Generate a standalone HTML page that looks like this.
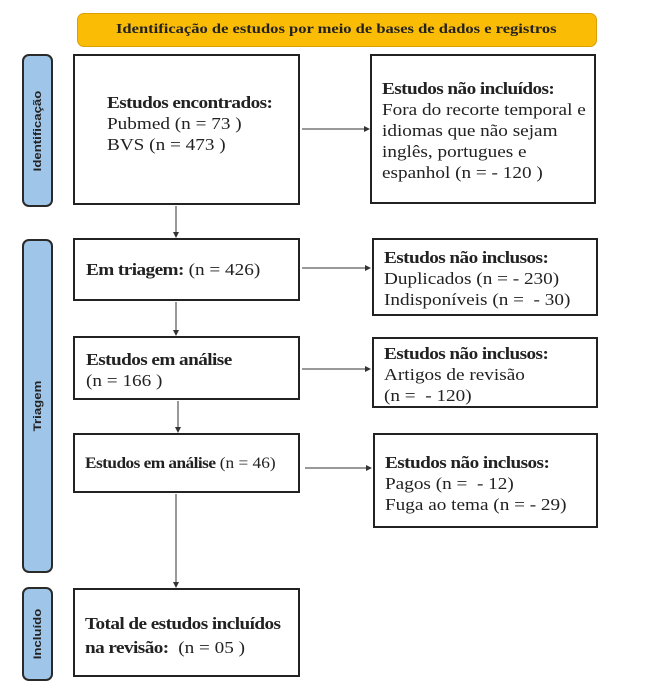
<!DOCTYPE html>
<html><head><meta charset="utf-8"><style>
body{margin:0;width:646px;height:692px;background:#fff;position:relative;overflow:hidden;font-family:"Liberation Serif",serif;color:#222}
.a{position:absolute;box-sizing:border-box}
.box{border:2px solid #222;background:#fff;font-size:17px;line-height:21px}
.box .t{transform:scaleX(1.13);transform-origin:0 0;white-space:nowrap}
.tab{background:#9fc5e8;border:2px solid #2a2a2a;border-radius:7px}
.tab span{position:absolute;left:50%;top:50%;transform:translate(-50%,-50%) rotate(-90deg) scaleX(1.2);font-family:"Liberation Sans",sans-serif;font-weight:bold;font-size:11px;white-space:nowrap;color:#222}
b{font-weight:bold;letter-spacing:-0.5px}
</style></head><body>
<div class="a" style="left:77px;top:13px;width:520px;height:34px;background:#fbbc05;border:1px solid #d9a000;border-radius:7px;font-weight:bold;font-size:14px;line-height:32px"><div style="position:absolute;left:38px;top:0;transform:scaleX(1.18);transform-origin:0 0;white-space:nowrap">Identificação de estudos por meio de bases de dados e registros</div></div>

<div class="a tab" style="left:22px;top:54px;width:31px;height:153px"><span>Identificação</span></div>
<div class="a tab" style="left:22px;top:239px;width:31px;height:334px"><span>Triagem</span></div>
<div class="a tab" style="left:22px;top:587px;width:31px;height:94px"><span>Incluído</span></div>

<div class="a box" style="left:73px;top:54px;width:227px;height:151px;padding:36px 0 0 32px"><div class="t"><b>Estudos encontrados:</b><br>Pubmed (n = 73 )<br>BVS (n = 473 )</div></div>
<div class="a box" style="left:73px;top:238px;width:227px;height:63px;padding:19px 0 0 11px"><div class="t"><b>Em triagem:</b> (n = 426)</div></div>
<div class="a box" style="left:73px;top:336px;width:227px;height:64px;padding:11px 0 0 11px"><div class="t"><b>Estudos em análise</b><br>(n = 166 )</div></div>
<div class="a box" style="left:73px;top:433px;width:227px;height:60px;padding:18px 0 0 10px;font-size:16px"><div class="t" style="transform:scaleX(1.08)"><b>Estudos em análise</b> (n = 46)</div></div>
<div class="a box" style="left:73px;top:588px;width:227px;height:89px;padding:22px 0 0 10px;line-height:24px"><div class="t"><b>Total de estudos incluídos<br>na revisão:</b>&nbsp; (n = 05 )</div></div>

<div class="a box" style="left:370px;top:54px;width:226px;height:150px;padding:22px 0 0 10px"><div class="t"><b>Estudos não incluídos:</b><br>Fora do recorte temporal e<br>idiomas que não sejam<br>inglês, portugues e<br>espanhol (n = - 120 )</div></div>
<div class="a box" style="left:372px;top:238px;width:226px;height:78px;padding:7px 0 0 10px"><div class="t"><b>Estudos não inclusos:</b><br>Duplicados (n = - 230)<br>Indisponíveis (n = &nbsp;- 30)</div></div>
<div class="a box" style="left:372px;top:337px;width:226px;height:71px;padding:4px 0 0 10px"><div class="t"><b>Estudos não inclusos:</b><br>Artigos de revisão<br>(n = &nbsp;- 120)</div></div>
<div class="a box" style="left:373px;top:433px;width:225px;height:95px;padding:17px 0 0 10px"><div class="t"><b>Estudos não inclusos:</b><br>Pagos (n = &nbsp;- 12)<br>Fuga ao tema (n = - 29)</div></div>

<svg class="a" style="left:0;top:0" width="646" height="692">
<defs><marker id="m" markerWidth="6" markerHeight="6" refX="5" refY="3" orient="auto"><path d="M0,0 L6,3 L0,6z" fill="#333"/></marker></defs>
<g stroke="#333" stroke-width="1" marker-end="url(#m)">
<line x1="176" y1="206" x2="176" y2="237"/>
<line x1="176" y1="302" x2="176" y2="335"/>
<line x1="178" y1="401" x2="178" y2="432"/>
<line x1="176" y1="494" x2="176" y2="587"/>
<line x1="302" y1="129" x2="369" y2="129"/>
<line x1="302" y1="268" x2="370" y2="268"/>
<line x1="302" y1="369" x2="370" y2="369"/>
<line x1="305" y1="468" x2="371" y2="468"/>
</g></svg>
</body></html>
